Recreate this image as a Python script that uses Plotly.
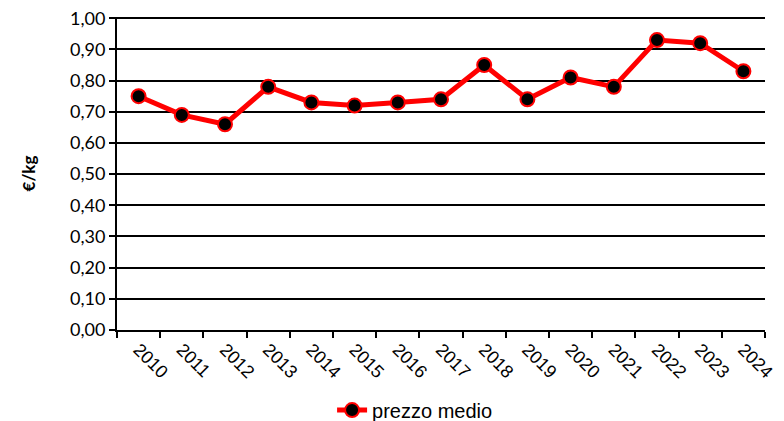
import plotly.graph_objects as go

anni = ["2010", "2011", "2012", "2013", "2014", "2015", "2016", "2017",
        "2018", "2019", "2020", "2021", "2022", "2023", "2024"]
prezzo_medio = [0.75, 0.69, 0.66, 0.78, 0.73, 0.72, 0.73, 0.74,
                0.85, 0.74, 0.81, 0.78, 0.93, 0.92, 0.83]

fig = go.Figure()
fig.add_trace(go.Scatter(
    x=anni, y=prezzo_medio, name="prezzo medio",
    mode="lines+markers",
    line=dict(color="#ff0000", width=5),
    marker=dict(color="black", size=14, line=dict(color="#ff0000", width=2)),
))

fig.update_layout(
    width=784, height=421,
    margin=dict(l=109, r=27, t=9, b=99),
    plot_bgcolor="white", paper_bgcolor="white",
    separators=",.",
    font=dict(family="Lato, Open Sans, sans-serif", color="black", size=18),
    showlegend=True,
    legend=dict(orientation="h", x=0.46, xanchor="center",
                yref="container", y=0.045, yanchor="middle",
                font=dict(family="Liberation Sans Narrow, Arial Narrow, sans-serif", size=20)),
)
fig.update_xaxes(
    type="category", tickangle=45, tickson="boundaries", automargin=False,
    ticks="outside", ticklen=6, tickwidth=2, tickcolor="black",
    showline=True, linecolor="black", linewidth=2, showgrid=False,
    tickfont=dict(family="Liberation Sans Narrow, Arial Narrow, sans-serif", size=18),
    range=[-0.5, 14.5],
)
fig.update_yaxes(
    range=[0, 1.004], dtick=0.1, tickformat=".2f", automargin=False,
    ticklabeloverflow="allow",
    ticks="outside", ticklen=6, tickwidth=2, tickcolor="black",
    showline=True, linecolor="black", linewidth=2,
    showgrid=True, gridcolor="black", gridwidth=2, zeroline=False,
    title=dict(text="<b>€/kg</b>", font=dict(size=17), standoff=30),
)

fig.write_html("out.html")
